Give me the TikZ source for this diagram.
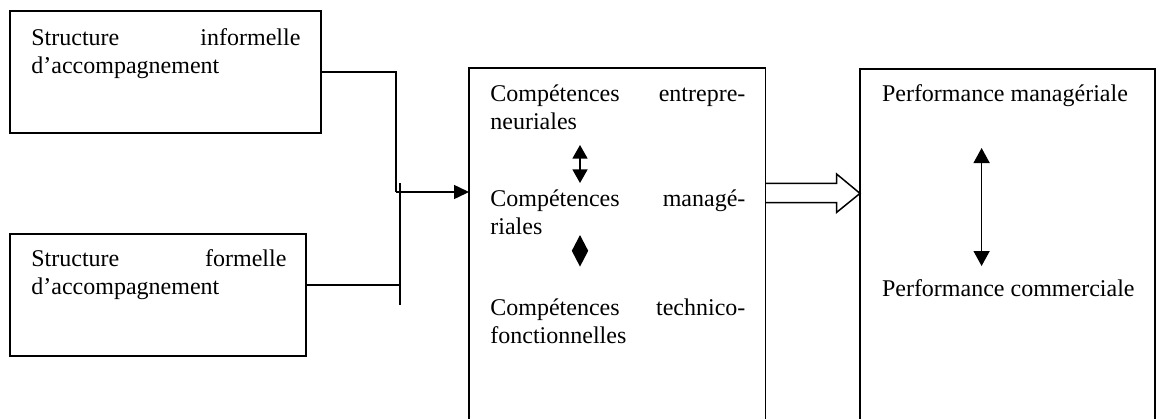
\documentclass[tikz,border=0pt]{standalone}
\usepackage{fontspec}
\setmainfont{Liberation Serif}
\usepackage{tikz}
\usetikzlibrary{arrows.meta, positioning}

\begin{document}
\begin{tikzpicture}[x=1pt, y=-1pt,
    box/.style={draw, rectangle, line width=0.75pt, inner sep=0pt, outer sep=0pt, anchor=north west},
    txt/.style={inner sep=0pt, anchor=base west, align=left, font=\fontsize{12}{14}\selectfont},
    link/.style={line width=0.75pt},
    twohead/.style={line width=0.75pt, {Triangle[length=6.8pt,width=7.5pt]}-{Triangle[length=6.8pt,width=7.5pt]}},
    hollow/.style={line width=0.75pt, line join=miter}]
    \useasboundingbox (0,0) rectangle (578.5,209);

    \node[box, minimum width=155.5pt, minimum height=61pt] (informelle) at (5,5.5) {};
    \node[box, minimum width=148pt, minimum height=61pt] (formelle) at (5,117) {};
    \node[box, minimum width=148.2pt, minimum height=200pt] (competences) at (234.5,34) {};
    \node[box, minimum width=147.6pt, minimum height=200pt] (performance) at (430,34.5) {};

    \node[txt, text width=134.5pt] (tinf) at (15.5,22.5) {Structure\hfill informelle\\d’accompagnement};
    \node[txt, text width=127.5pt] (tform) at (15.5,133.3) {Structure\hfill formelle\\d’accompagnement};

    \node[txt, text width=127.5pt] (entre) at (245,50.8) {Compétences\hfill entrepre-\\neuriales};
    \node[txt, text width=127.5pt] (manag) at (245,103.3) {Compétences\hfill managé-\\riales};
    \node[txt, text width=127.5pt] (techn) at (245,157.5) {Compétences\hfill technico-\\fonctionnelles};

    \node[txt] (perfman) at (440.8,50.8) {Performance managériale};
    \node[txt] (perfcom) at (440.8,148.3) {Performance commerciale};

    \coordinate (knee) at (198,96);
    \coordinate (bartop) at (200,91.5);
    \coordinate (barbot) at (200,152.5);
    \coordinate (fout) at ([yshift=5pt]formelle.east);

    \draw[link] (informelle.east) -| (knee);
    \draw[link, -{Triangle[length=7.5pt,width=7pt]}] (knee) -- (knee -| competences.west);
    \draw[link] (bartop) -- (barbot);
    \draw[link] (fout) -- (fout -| bartop);

    \draw[twohead] ([xshift=45pt,yshift=-21.7pt]entre.base west) -- ([xshift=45pt,yshift=11.8pt]manag.base west);
    \draw[line width=0.75pt, {Triangle[length=7.9pt,width=8pt]}-{Triangle[length=7.9pt,width=8pt]}]
        ([xshift=45pt,yshift=-14.2pt]manag.base west) -- ([xshift=45pt,yshift=24.2pt]techn.base west);
    \draw[line width=0.75pt, {Triangle[length=7.5pt,width=8pt]}-{Triangle[length=7.5pt,width=8pt]}]
        ([xshift=50pt,yshift=-23.2pt]perfman.base west) -- ([xshift=50pt,yshift=15.3pt]perfcom.base west);

    \draw[hollow] (competences.east |- 0,91.7) -- ++(35.6,0) -- ++(0,-4.7) -- (performance.west |- 0,96.7)
        -- ++(-11.7,9.5) -- ++(0,-4.9) -- (competences.east |- 0,101.3);
\end{tikzpicture}
\end{document}
